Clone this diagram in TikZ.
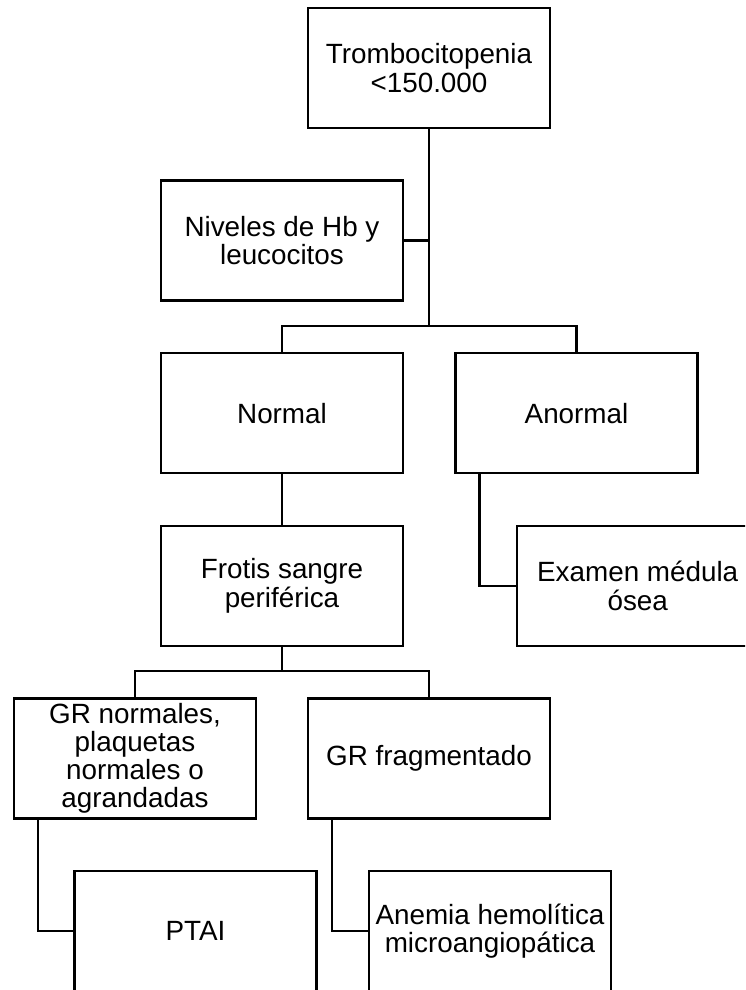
\documentclass[tikz,border=0pt]{standalone}
\usepackage{fontspec}
\setmainfont{Liberation Sans}

\begin{document}
\begin{tikzpicture}[line width=1.6pt,node distance=4.315cm,
		box node/.style={rectangle,draw,minimum width=6.05cm,minimum height=3cm,align=center,inner sep=0pt,font=\fontsize{19.8}{20.1}\selectfont}]
		\useasboundingbox (0,0) rectangle (18.625,-24.75);
		\clip (0,0) rectangle (18.625,-24.75);
		% inicio
		\node[box node] (tr) at (10.725,-1.7) {Trombocitopenia\\<150.000};
		\node[box node] (hb) [below of= tr, xshift=-3.675cm]{Niveles de Hb y\\leucocitos};
		
		% resultado Hb y leucocitos
		\node[box node] (nor) [below of= hb]{Normal};
		\node[box node] (anor) [right of= nor, node distance=7.3625cm]{Anormal};
		\node[box node] (fro) [below of= nor]{Frotis sangre\\periférica};
		\node[box node] (med) [below of= anor, xshift=1.53cm]{Examen médula\\ósea};
		
		% frotis
		\node[box node] (grn) [below of= fro, xshift=-3.675cm]{GR normales,\\plaquetas\\normales o\\agrandadas};
		\node[box node] (grf) [below of= fro, xshift=3.675cm]{GR fragmentado};
		\node[box node] (ptai) [below of= grn, xshift=1.5125cm]{PTAI};
		\node[box node] (anem) [below of= grf, xshift=1.525cm]{Anemia hemolítica\\microangiopática};
		
		\draw (nor.north) -- ++(0,0.65) coordinate (s1) -| (anor.north);
		\draw (tr.south) -- (tr.south |- s1);
		\draw (hb.east) -- (hb.east -| tr.south);
		\draw (nor) -- (fro);
		\draw ([xshift=0.625cm]anor.south west) |- (med.west);
		
		% ramas del frotis
		\draw (grn.north) -- ++(0,0.65) coordinate (s2) -| (grf.north);
		\draw (fro.south) -- (fro.south |- s2);
		\draw ([xshift=0.625cm]grn.south west) |- (ptai.west);
		\draw ([xshift=0.625cm]grf.south west) |- (anem.west);
		
\end{tikzpicture}
\end{document}
